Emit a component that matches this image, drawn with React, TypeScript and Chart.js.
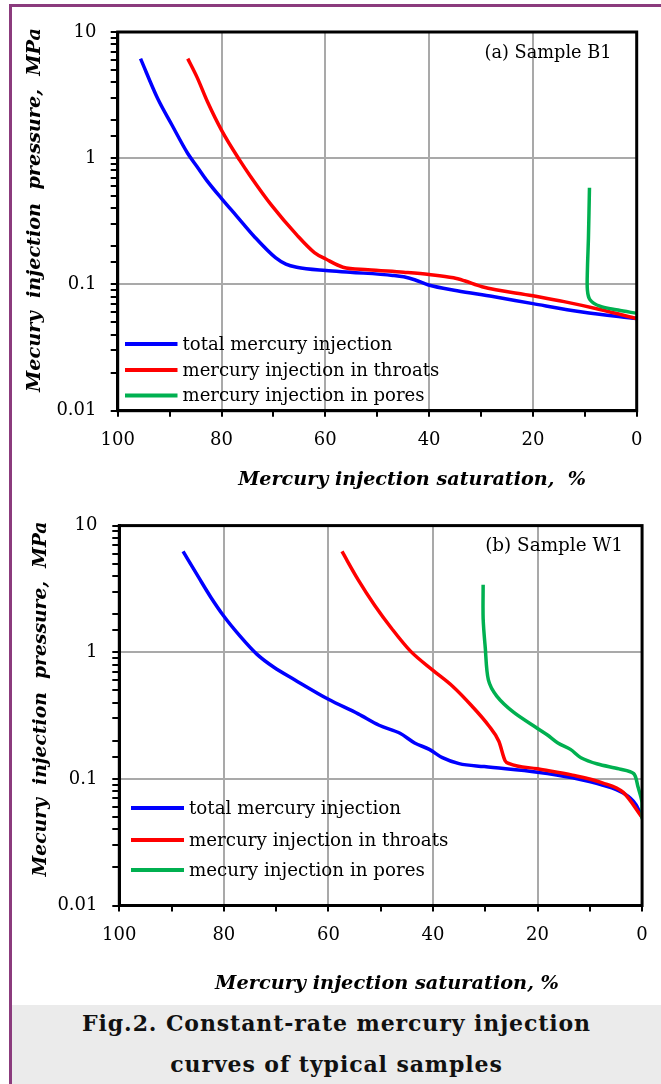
import React, { useEffect, useRef } from 'react';
import { Chart, registerables } from 'chart.js';

Chart.register(...registerables);

// ---------- data: panel (a) Sample B1 ----------
const satA_total = [95.6, 92.3, 89.6, 86.5, 84.7, 82.7, 79.9, 77.2, 73.7, 69.6, 67.6, 65.5, 59.9, 55.2, 47.0, 44.9, 42.8, 40.1, 34.6, 27.7, 20.0, 10.5, 0];
const presA_total = [6.15, 2.97, 1.85, 1.09, 0.857, 0.656, 0.475, 0.353, 0.240, 0.163, 0.145, 0.137, 0.129, 0.125, 0.118, 0.115, 0.109, 0.099, 0.0893, 0.0803, 0.0705, 0.0605, 0.0537];
const satA_throat = [86.5, 84.7, 82.7, 79.9, 76.5, 74.4, 70.3, 65.5, 62.1, 59.9, 56.6, 51.8, 44.9, 40.0, 35.3, 33.2, 29.8, 20.0, 14.0, 7.1, 0];
const presA_throat = [6.15, 4.37, 2.80, 1.64, 0.966, 0.718, 0.421, 0.247, 0.179, 0.159, 0.137, 0.131, 0.125, 0.120, 0.113, 0.107, 0.096, 0.0813, 0.0731, 0.0634, 0.0537];
const satA_pore = [9.1, 9.3, 9.5, 9.5, 9.0, 7.1, 3.6, 0];
const presA_pore = [0.583, 0.233, 0.129, 0.0904, 0.0757, 0.0673, 0.0627, 0.059];

// ---------- data: panel (b) Sample W1 ----------
const satB_total = [87.8, 84.9, 82.5, 80.1, 76.9, 73.7, 70.5, 66.4, 60.0, 54.3, 50.3, 46.3, 43.5, 40.7, 38.2, 35.0, 30.2, 20.0, 13.3, 7.6, 3.6, 1.2, 0];
const presB_total = [6.25, 3.95, 2.72, 1.95, 1.34, 0.966, 0.764, 0.604, 0.425, 0.326, 0.265, 0.229, 0.192, 0.171, 0.147, 0.132, 0.125, 0.113, 0.102, 0.0895, 0.0773, 0.0629, 0.0497];
const satB_throat = [57.4, 54.3, 51.1, 47.9, 44.3, 40.0, 36.2, 32.6, 29.4, 27.4, 26.2, 25.4, 20.0, 13.3, 7.6, 3.6, 0];
const presB_throat = [6.25, 3.73, 2.33, 1.54, 1.02, 0.72, 0.537, 0.378, 0.265, 0.198, 0.139, 0.132, 0.120, 0.107, 0.0931, 0.0782, 0.0497];
const satB_pore = [30.4, 30.4, 30.0, 29.4, 27.8, 24.6, 20.0, 18.1, 16.1, 13.7, 11.7, 8.5, 4.4, 1.6, 0.8, 0, 0];
const presB_pore = [3.41, 1.84, 1.09, 0.604, 0.45, 0.336, 0.25, 0.222, 0.192, 0.171, 0.147, 0.131, 0.12, 0.11, 0.0869, 0.0648, 0.048];

// ---------- ticks & labels ----------
const xLabelTicks = [0, 20, 40, 60, 80, 100];
const xGridTicks = [20, 40, 60, 80];
const yLabelTicks = [0.01, 0.1, 1, 10];
const yGridTicks = [0.1, 1];

const legendA = ['total mercury injection', 'mercury injection in throats', 'mercury injection in pores'];
const legendB = ['total mercury injection', 'mercury injection in throats', 'mecury injection in pores'];
const noteA = '(a) Sample B1';
const noteB = '(b) Sample W1';
const xTitleA = 'Mercury injection saturation,  %';
const xTitleB = 'Mercury injection saturation, %';
const yTitleText = 'Mecury  injection  pressure,  MPa';
const captionLines = ['Fig.2. Constant-rate mercury injection', 'curves of typical samples'];

const COLORS = ['#0000ff', '#ff0000', '#00b050'];
const GRID = '#a9a9a9';
const FONT = "'DejaVu Serif', serif";
const PURPLE = '#8b3b7d';

type Layout = {
  x: number; y: number; w: number; h: number;
  left: number; right: number; top: number; bottom: number;
  yPad: number; xPad: number;
  legendX0: number; legendX1: number; legendTextX: number; legendY: number[]; legendW: number;
  noteRight: number; noteY: number; noteW: number;
  xTitleX: number; xTitleY: number; xTitleW: number;
  yTitleX: number; yTitleY: number; yTitleW: number;
};

const layoutA: Layout = {
  x: 12, y: 7, w: 649, h: 493,
  left: 105.7, right: 624.7, top: 14.7, bottom: 403.7,
  yPad: 14.2, xPad: 13.2,
  legendX0: 113, legendX1: 165.5, legendTextX: 170.5, legendY: [337, 363, 388.6], legendW: 210,
  noteRight: 599.5, noteY: 46.5, noteW: 127,
  xTitleX: 400, xTitleY: 473, xTitleW: 348,
  yTitleX: 23, yTitleY: 203, yTitleW: 364,
};

const layoutB: Layout = {
  x: 12, y: 500, w: 649, h: 505,
  left: 107.3, right: 630.3, top: 14, bottom: 405.5,
  yPad: 14.8, xPad: 13.2,
  legendX0: 119, legendX1: 172, legendTextX: 177, legendY: [308, 340, 370], legendW: 212,
  noteRight: 611, noteY: 46.7, noteW: 138,
  xTitleX: 375, xTitleY: 484, xTitleW: 344,
  yTitleX: 29, yTitleY: 199, yTitleW: 355,
};

const near = (v: number, m: number) => Math.abs(v - m) < Math.abs(m) * 1e-6 + 1e-12;

function fitSize(ctx: CanvasRenderingContext2D, text: string, target: number, style: string) {
  ctx.font = `${style} 20px ${FONT}`;
  const w = ctx.measureText(text).width;
  return (20 * target) / w;
}

type Series = { sat: number[]; pres: number[] };

function Panel({ L, series, legend, note, xTitle }: { L: Layout; series: Series[]; legend: string[]; note: string; xTitle: string }) {
  const ref = useRef<HTMLCanvasElement>(null);
  useEffect(() => {
    const canvas = ref.current!;
    const decor = {
      id: 'decor',
      afterDraw(chart: any) {
        const ctx: CanvasRenderingContext2D = chart.ctx;
        const a = chart.chartArea;
        ctx.save();
        // frame
        ctx.strokeStyle = '#000';
        ctx.lineWidth = 3;
        ctx.lineJoin = 'miter';
        ctx.strokeRect(a.left, a.top, a.right - a.left, a.bottom - a.top);
        // legend
        const ls = fitSize(ctx, legend[0], L.legendW, '');
        ctx.font = `${ls}px ${FONT}`;
        ctx.textBaseline = 'middle';
        ctx.textAlign = 'left';
        legend.forEach((t, i) => {
          const y = L.legendY[i];
          ctx.strokeStyle = COLORS[i];
          ctx.lineWidth = 4;
          ctx.lineCap = 'butt';
          ctx.beginPath();
          ctx.moveTo(L.legendX0, y);
          ctx.lineTo(L.legendX1, y);
          ctx.stroke();
          ctx.fillStyle = '#000';
          ctx.fillText(t, L.legendTextX, y + 1);
        });
        // sample note
        const ns = fitSize(ctx, note, L.noteW, '');
        ctx.font = `${ns}px ${FONT}`;
        ctx.textAlign = 'right';
        ctx.fillStyle = '#000';
        ctx.fillText(note, L.noteRight, L.noteY);
        // x title
        const xs = fitSize(ctx, xTitle, L.xTitleW, 'italic bold');
        ctx.font = `italic bold ${xs}px ${FONT}`;
        ctx.textAlign = 'center';
        ctx.fillText(xTitle, L.xTitleX, L.xTitleY);
        // y title
        const ys = fitSize(ctx, yTitleText, L.yTitleW, 'italic bold');
        ctx.font = `italic bold ${ys}px ${FONT}`;
        ctx.translate(L.yTitleX, L.yTitleY);
        ctx.rotate(-Math.PI / 2);
        ctx.fillText(yTitleText, 0, 0);
        ctx.restore();
      },
    };

    const chart = new Chart(canvas, {
      type: 'line',
      data: {
        datasets: series.map((s, i) => ({
          label: legend[i],
          data: s.sat.map((x, j) => ({ x, y: s.pres[j] })),
          borderColor: COLORS[i],
          backgroundColor: COLORS[i],
          borderWidth: 3.5,
          pointRadius: 0,
          tension: 0.3,
          cubicInterpolationMode: i < 2 ? 'monotone' : 'default',
          fill: false,
          order: 3 - i,
        })),
      },
      options: {
        responsive: false,
        animation: false,
        devicePixelRatio: 1,
        layout: { padding: { left: 0, top: L.top, right: L.w - L.right, bottom: 0 } },
        plugins: { legend: { display: false }, tooltip: { enabled: false } },
        scales: {
          x: {
            type: 'linear',
            reverse: true,
            min: 0,
            max: 100,
            afterFit: (s: any) => { s.height = L.h - L.bottom; },
            ticks: {
              stepSize: 10,
              autoSkip: false,
              maxRotation: 0,
              padding: L.xPad,
              color: '#000',
              font: { family: FONT, size: 18 },
              callback: (v: any) => (xLabelTicks.some((m) => near(Number(v), m)) ? String(v) : ''),
            },
            grid: {
              color: (c: any) => {
                const v = c.tick ? c.tick.value : NaN;
                return xGridTicks.some((m) => near(v, m)) ? GRID : 'rgba(0,0,0,0)';
              },
              lineWidth: 2,
              tickColor: '#000',
              tickLength: 6,
              tickWidth: 2,
            },
            border: { display: true, color: '#000', width: 3 },
          },
          y: {
            type: 'logarithmic',
            min: 0.01,
            max: 10,
            afterFit: (s: any) => { s.width = L.left; },
            ticks: {
              autoSkip: false,
              padding: L.yPad,
              color: '#000',
              font: { family: FONT, size: 18 },
              callback: (v: any) => {
                const m = yLabelTicks.find((t) => near(Number(v), t));
                return m !== undefined ? String(m) : '';
              },
            },
            grid: {
              color: (c: any) => {
                const v = c.tick ? c.tick.value : NaN;
                return yGridTicks.some((m) => near(v, m)) ? GRID : 'rgba(0,0,0,0)';
              },
              lineWidth: 2,
              tickColor: '#000',
              tickLength: 7,
              tickWidth: 2,
            },
            border: { display: true, color: '#000', width: 3 },
          },
        },
      } as any,
      plugins: [decor as any],
    });
    return () => chart.destroy();
  }, []);
  return (
    <canvas
      ref={ref}
      width={L.w}
      height={L.h}
      style={{ position: 'absolute', left: L.x, top: L.y, width: L.w, height: L.h }}
    />
  );
}

export default function App() {
  const seriesA: Series[] = [
    { sat: satA_total, pres: presA_total },
    { sat: satA_throat, pres: presA_throat },
    { sat: satA_pore, pres: presA_pore },
  ];
  const seriesB: Series[] = [
    { sat: satB_total, pres: presB_total },
    { sat: satB_throat, pres: presB_throat },
    { sat: satB_pore, pres: presB_pore },
  ];
  const capStyle: React.CSSProperties = {
    position: 'absolute',
    left: 0,
    width: 649,
    textAlign: 'center',
    fontFamily: FONT,
    fontWeight: 'bold',
    fontSize: 22,
    letterSpacing: '0.9px',
    lineHeight: '22px',
    color: '#111',
    whiteSpace: 'nowrap',
  };
  return (
    <div style={{ position: 'absolute', left: 0, top: 0, width: 661, height: 1084, overflow: 'hidden', background: '#fff' }}>
      <div
        style={{
          position: 'absolute', left: 9, top: 4, width: 700, height: 1100,
          borderLeft: `3px solid ${PURPLE}`, borderTop: `3px solid ${PURPLE}`,
        }}
      />
      <Panel L={layoutA} series={seriesA} legend={legendA} note={noteA} xTitle={xTitleA} />
      <Panel L={layoutB} series={seriesB} legend={legendB} note={noteB} xTitle={xTitleB} />
      <div style={{ position: 'absolute', left: 12, top: 1005, width: 649, height: 79, background: '#ebebeb' }}>
        <div style={{ ...capStyle, top: 7 }}>{captionLines[0]}</div>
        <div style={{ ...capStyle, top: 48 }}>{captionLines[1]}</div>
      </div>
    </div>
  );
}
